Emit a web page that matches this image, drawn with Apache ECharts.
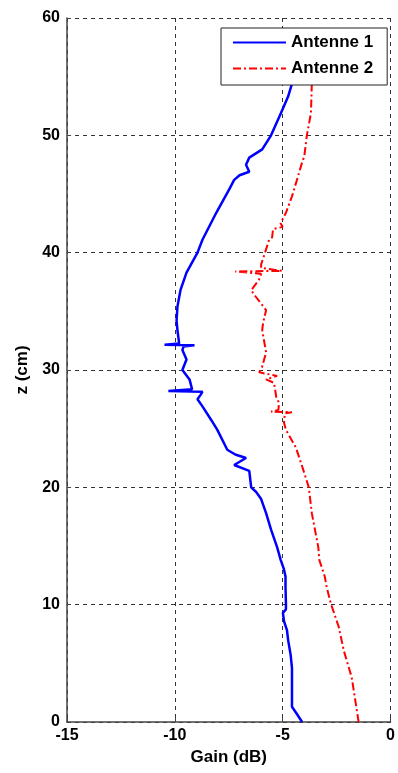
<!DOCTYPE html>
<html>
<head>
<meta charset="utf-8">
<script src="https://cdn.jsdelivr.net/npm/echarts@6.0.0/dist/echarts.min.js"></script>
<style>
html,body{margin:0;padding:0;background:#fff;}
#chart{width:398px;height:773px;}
</style>
</head>
<body>
<div id="chart"></div>
<script>
// Antenne 1: [gain (dB), z (cm)]
var antenne1 = [
  [-4.1, 0], [-4.35, 0.7], [-4.57, 1.3], [-4.57, 4.6], [-4.63, 5.7], [-4.75, 7],
  [-4.8, 7.8], [-4.94, 8.6], [-4.99, 9.3], [-4.85, 9.6], [-4.85, 10.1], [-4.87, 11.5],
  [-4.87, 12.4], [-4.94, 13], [-5.09, 13.8], [-5.26, 14.9], [-5.54, 16.4], [-5.77, 17.8],
  [-6.0, 19.0], [-6.23, 19.6], [-6.46, 20], [-6.5, 20.6], [-6.55, 21.4], [-7.25, 21.9],
  [-6.7, 22.5], [-7.2, 22.8], [-7.57, 23.2], [-8.03, 24.9], [-8.3, 25.7], [-8.72, 26.9],
  [-8.95, 27.5], [-8.8, 27.9], [-8.72, 28.15], [-10.3, 28.2], [-9.2, 28.35], [-9.32, 29.2],
  [-9.65, 30], [-9.46, 30.9], [-9.65, 31.7], [-9.6, 32.0], [-9.09, 32.1], [-10.48, 32.15],
  [-9.8, 32.25], [-9.88, 33.4], [-9.92, 34.2], [-9.88, 35.4], [-9.74, 36.8], [-9.46, 38.3],
  [-8.95, 40], [-8.72, 41.1], [-8.08, 43.4], [-7.48, 45.4], [-7.25, 46.2], [-7.0, 46.6],
  [-6.55, 46.9], [-6.7, 47.5], [-6.55, 48.1], [-5.95, 48.8], [-5.54, 50], [-5.08, 51.9],
  [-4.75, 53.3], [-4.57, 54.4], [-4.4, 55.5]
];
// Antenne 2: [gain (dB), z (cm)]
var antenne2 = [
  [-1.48, 0], [-1.8, 3.8], [-2.17, 6.1], [-2.4, 8.1], [-2.77, 10.1], [-2.96, 11.5],
  [-3.05, 12.4], [-3.3, 13.8], [-3.35, 14.9], [-3.65, 17.8], [-3.79, 20], [-4.1, 21.8],
  [-4.39, 23.4], [-4.85, 24.9], [-4.94, 25.5], [-4.9, 26.3], [-4.57, 26.4], [-5.54, 26.45],
  [-5.2, 26.6], [-5.17, 27.2], [-5.3, 27.7], [-5.4, 28.9], [-5.77, 29.2], [-5.26, 29.5],
  [-6.09, 29.8], [-5.95, 30.3], [-5.77, 31.5], [-5.95, 33.4], [-5.91, 34], [-5.77, 35.1],
  [-6.23, 36.2], [-6.46, 36.8], [-6.1, 37.7], [-6.0, 38.2], [-7.2, 38.4], [-5.03, 38.45],
  [-6.0, 38.7], [-6.0, 39], [-5.82, 40], [-5.63, 41.1], [-5.49, 41.3], [-5.45, 42.0],
  [-5.0, 42.2], [-5.1, 42.5], [-4.85, 43.4], [-4.57, 44.8], [-4.34, 46.2], [-4.1, 47.7],
  [-4.0, 48.2], [-3.88, 50], [-3.69, 51.9], [-3.65, 54.4], [-3.6, 55.5]
];
var seriesNames = ['Antenne 1', 'Antenne 2'];
var xTicks = { min: -15, max: 0, interval: 5 };
var yTicks = { min: 0, max: 60, interval: 10 };

var font = 'Liberation Sans, Arial, sans-serif';
var chart = echarts.init(document.getElementById('chart'), null, { renderer: 'canvas' });
var splitStyle = { show: true, lineStyle: { color: '#333', type: [4, 4], width: 1 } };
chart.setOption({
  animation: false,
  backgroundColor: '#fff',
  grid: { left: 67, right: 6, top: 18, bottom: 51, containLabel: false },
  legend: {
    orient: 'vertical',
    left: 221, top: 28,
    padding: [6, 14, 8, 11],
    itemWidth: 53, itemHeight: 14, itemGap: 9,
    backgroundColor: '#fff',
    borderColor: '#222', borderWidth: 1,
    itemStyle: { opacity: 0 },
    textStyle: { fontFamily: font, fontWeight: 'bold', fontSize: 17, color: '#000' },
    data: seriesNames
  },
  xAxis: {
    type: 'value', min: xTicks.min, max: xTicks.max, interval: xTicks.interval,
    name: 'Gain (dB)', nameLocation: 'middle', nameGap: 26,
    nameTextStyle: { fontFamily: font, fontWeight: 'bold', fontSize: 17, color: '#000' },
    axisLine: { show: true, onZero: false, lineStyle: { color: '#444', width: 1.5 } },
    axisTick: { show: true, inside: true, length: 4, lineStyle: { color: '#444' } },
    axisLabel: { fontFamily: font, fontWeight: 'bold', fontSize: 16, color: '#000', margin: 6 },
    splitLine: splitStyle
  },
  yAxis: {
    type: 'value', min: yTicks.min, max: yTicks.max, interval: yTicks.interval,
    name: 'z (cm)', nameLocation: 'middle', nameGap: 36, nameRotate: 90,
    nameTextStyle: { fontFamily: font, fontWeight: 'bold', fontSize: 17, color: '#000' },
    axisLine: { show: true, onZero: false, lineStyle: { color: '#444', width: 1.5 } },
    axisTick: { show: true, inside: true, length: 4, lineStyle: { color: '#444' } },
    axisLabel: { fontFamily: font, fontWeight: 'bold', fontSize: 16, color: '#000', margin: 7 },
    splitLine: splitStyle
  },
  series: [
    {
      name: seriesNames[0], type: 'line', data: antenne1, symbol: 'none', showSymbol: false,
      lineStyle: { color: '#0000ff', width: 2.5 }, itemStyle: { color: '#0000ff' }, z: 3
    },
    {
      name: seriesNames[1], type: 'line', data: antenne2, symbol: 'none', showSymbol: false,
      lineStyle: { color: '#ff0000', width: 2, type: [8, 3, 2, 3] }, itemStyle: { color: '#ff0000' }, z: 2
    }
  ]
});
</script>
</body>
</html>
